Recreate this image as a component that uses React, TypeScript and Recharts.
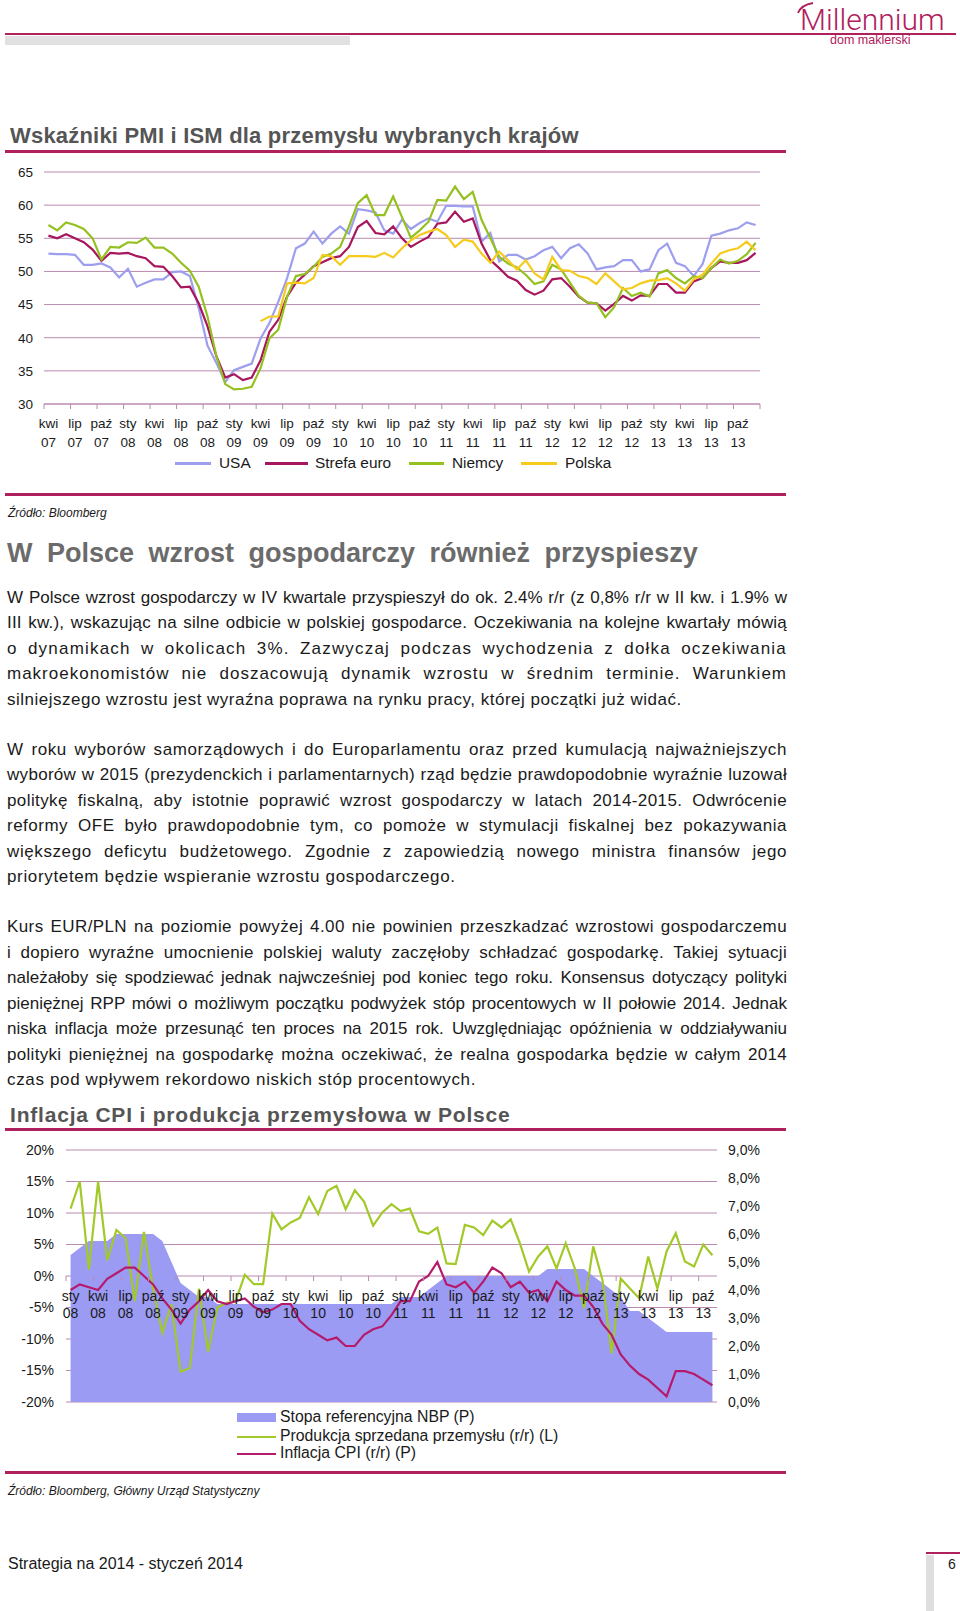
import React from 'react'
import { LineChart, ComposedChart, Line, Area, XAxis, YAxis, CartesianGrid } from 'recharts'

const MONTHS = ['sty', 'lut', 'mar', 'kwi', 'maj', 'cze', 'lip', 'sie', 'wrz', 'paź', 'lis', 'gru']

const monthLabels = (year: number, month: number, count: number) => {
  const out: string[] = []
  for (let k = 0; k < count; k++) {
    const m = (month + k) % 12
    const y = year + Math.floor((month + k) / 12)
    out.push(`${MONTHS[m]} ${String(y).slice(2)}`)
  }
  return out
}

// PMI / ISM, kwi 2007 - gru 2013
const pmiMonths = monthLabels(2007, 3, 81)
const pmiTicks = [30, 35, 40, 45, 50, 55, 60, 65]

const usa = [
  52.7, 52.6, 52.6, 52.5, 51.0, 51.0, 51.2, 50.6, 49.1, 50.4,
  47.7, 48.3, 48.8, 48.8, 49.9, 50.0, 49.3, 44.5, 38.8, 36.2,
  33.3, 35.1, 35.6, 36.1, 39.9, 42.2, 45.4, 49.0, 53.5, 54.2,
  56.0, 54.2, 55.7, 56.8, 55.7, 59.4, 59.2, 58.9, 56.2, 55.7,
  57.8, 56.4, 57.3, 58.0, 57.5, 59.9, 59.9, 59.8, 59.8, 54.5,
  55.8, 51.5, 52.5, 52.5, 51.8, 52.3, 53.2, 53.7, 52.0, 53.5,
  54.1, 52.7, 50.3, 50.6, 50.8, 51.7, 51.7, 50.0, 50.3, 53.2,
  54.2, 51.3, 50.8, 49.3, 51.1, 55.4, 55.7, 56.2, 56.5, 57.4,
  57.0,
]

const strefaEuro = [
  55.4, 55.0, 55.6, 55.0, 54.4, 53.3, 51.6, 52.8, 52.7, 52.8,
  52.3, 52.0, 50.8, 50.7, 49.3, 47.6, 47.7, 45.2, 41.7, 37.2,
  34.0, 34.5, 33.6, 34.0, 36.6, 40.9, 42.7, 46.2, 48.3, 49.5,
  50.8, 51.4, 52.0, 52.3, 53.7, 56.7, 57.6, 55.8, 55.6, 56.8,
  55.0, 53.7, 54.5, 55.2, 57.2, 57.4, 59.0, 57.5, 58.0, 54.2,
  51.7, 50.5, 49.2, 48.6, 47.2, 46.5, 47.1, 48.8, 49.0, 47.7,
  46.2, 45.3, 45.2, 44.1, 45.1, 46.3, 45.6, 46.4, 46.3, 48.1,
  48.1, 46.8, 46.8, 48.5, 49.0, 50.5, 51.5, 51.3, 51.3, 51.7,
  52.8,
]

const niemcy = [
  57.0, 56.2, 57.4, 57.0, 56.4, 55.0, 51.8, 53.7, 53.6, 54.4,
  54.3, 55.1, 53.6, 53.6, 52.7, 51.3, 50.1, 47.7, 43.2, 37.2,
  33.0, 32.2, 32.3, 32.6, 35.4, 39.9, 41.2, 46.2, 49.3, 49.6,
  50.7, 52.2, 52.7, 53.7, 56.8, 60.3, 61.5, 58.5, 58.5, 61.3,
  58.2, 55.1, 56.2, 57.5, 60.8, 60.7, 62.8, 60.9, 62.0, 57.8,
  55.0, 52.2, 51.2, 50.6, 49.5, 48.1, 48.5, 51.0, 50.3, 48.3,
  46.3, 45.3, 45.2, 43.1, 44.6, 47.5, 46.3, 46.8, 46.2, 49.7,
  50.2, 49.0, 48.2, 49.3, 49.0, 50.5, 51.8, 51.2, 51.6, 52.6,
  54.3,
]

const polska = [
  null, null, null, null, null, null, null, null, null, null,
  null, null, null, null, null, null, null, null, null, null,
  null, null, null, null, 42.5, 43.2, 43.2, 48.2, 48.3, 48.2,
  49.0, 52.5, 52.3, 51.0, 52.3, 52.3, 52.3, 52.2, 52.8, 52.1,
  53.5, 54.7, 55.5, 56.0, 56.4, 55.5, 53.7, 54.8, 54.5, 52.7,
  51.3, 53.0, 51.7, 50.3, 51.7, 49.7, 48.8, 52.2, 50.2, 50.1,
  49.3, 49.0, 48.1, 49.7, 48.5, 47.3, 47.5, 48.2, 48.6, 48.7,
  49.0, 48.2, 47.1, 48.8, 49.5, 51.2, 52.7, 53.2, 53.5, 54.5,
  53.2,
]

// CPI / produkcja, sty 2008 - lis 2013
const cpiMonths = monthLabels(2008, 0, 71)
const leftTicks = [-20, -15, -10, -5, 0, 5, 10, 15, 20]
const rightTicks = [0, 1, 2, 3, 4, 5, 6, 7, 8, 9]

const stopaNbp = [
  5.25, 5.5, 5.75, 5.75, 5.75, 6.0, 6.0, 6.0, 6.0, 6.0,
  5.75, 5.0, 4.25, 4.0, 3.75, 3.75, 3.5, 3.5, 3.5, 3.5,
  3.5, 3.5, 3.5, 3.5, 3.5, 3.5, 3.5, 3.5, 3.5, 3.5,
  3.5, 3.5, 3.5, 3.5, 3.5, 3.5, 3.75, 3.75, 3.75, 4.0,
  4.25, 4.5, 4.5, 4.5, 4.5, 4.5, 4.5, 4.5, 4.5, 4.5,
  4.5, 4.5, 4.75, 4.75, 4.75, 4.75, 4.75, 4.5, 4.25, 4.0,
  3.75, 3.25, 3.25, 3.0, 2.75, 2.5, 2.5, 2.5, 2.5, 2.5,
  2.5,
]

const produkcja = [
  10.7, 15.0, 1.0, 15.0, 2.5, 7.3, 6.0, -4.0, 7.0, -2.0,
  -9.0, -4.5, -15.2, -14.6, -2.0, -12.0, -5.0, -4.3, -4.0, 0.2,
  -1.3, -1.3, 9.9, 7.4, 8.5, 9.2, 12.5, 9.8, 13.5, 14.3,
  10.6, 13.6, 11.8, 8.0, 10.1, 11.4, 10.3, 10.7, 7.1, 6.7,
  7.7, 2.0, 1.9, 8.1, 7.7, 6.5, 8.8, 7.7, 9.0, 5.2,
  0.7, 3.1, 4.7, 1.2, 5.2, 1.2, -5.1, 4.7, -0.6, -12.3,
  -0.4, -2.0, -3.5, 3.1, -2.0, 3.9, 6.8, 2.3, 1.5, 5.0,
  3.3,
]

const inflacja = [
  4.0, 4.2, 4.1, 4.0, 4.4, 4.6, 4.8, 4.8, 4.5, 4.2,
  3.7, 3.3, 2.8, 3.3, 3.6, 4.0, 3.6, 3.5, 3.6, 3.7,
  3.4, 3.2, 3.3, 3.5, 3.5, 2.9, 2.6, 2.4, 2.2, 2.3,
  2.0, 2.0, 2.4, 2.6, 2.7, 3.1, 3.6, 3.6, 4.3, 4.5,
  5.0, 4.2, 4.1, 4.3, 3.9, 4.3, 4.8, 4.6, 4.1, 4.3,
  3.9, 4.0, 3.6, 4.3, 4.0, 3.8, 3.8, 3.4, 2.8, 2.4,
  1.7, 1.3, 1.0, 0.8, 0.5, 0.2, 1.1, 1.1, 1.0, 0.8,
  0.6,
]

const pmiSeries = [
  { key: 'usa', name: 'USA', color: '#9e9eef' },
  { key: 'strefaEuro', name: 'Strefa euro', color: '#a8175e' },
  { key: 'niemcy', name: 'Niemcy', color: '#94c11f' },
  { key: 'polska', name: 'Polska', color: '#f5cb1e' },
]

const pmiData = pmiMonths.map((month, i) => ({
  month,
  usa: usa[i],
  strefaEuro: strefaEuro[i],
  niemcy: niemcy[i],
  polska: polska[i],
}))

const cpiData = cpiMonths.map((month, i) => ({
  month,
  stopa: stopaNbp[i],
  produkcja: produkcja[i],
  inflacja: inflacja[i],
}))

const FONT = "'Liberation Sans', Arial, Helvetica, sans-serif"
const CRIMSON = '#b0205d'
const GRID = '#b98aae'
const TEXT = '#1a1a1a'

// chart 1 layout
const C1 = { left: 0, top: 150, width: 800 }
const M1 = { top: 22, right: 40, bottom: 0, left: 0 }
const Y1_W = 44
const PLOT1_H = 232
const X1_H = 66
const PLOT1_W = C1.width - M1.right - Y1_W
const STEP1 = PLOT1_W / pmiMonths.length

// chart 2 layout
const C2 = { left: 0, top: 1130, width: 800 }
const M2 = { top: 20, right: 0, bottom: 0, left: 0 }
const Y2L_W = 66
const Y2R_W = 83
const PLOT2_H = 252
const X2_H = 28
const PLOT2_W = C2.width - Y2L_W - Y2R_W
const STEP2 = PLOT2_W / cpiMonths.length
const L_MIN = -20
const L_MAX = 20

const PmiTick = (props: any) => {
  const { x, payload } = props
  const [mon, yr] = String(payload.value).split(' ')
  const axisY = M1.top + PLOT1_H
  const isLast = payload.value === pmiMonths[pmiMonths.length - 3]
  return (
    <g>
      <line x1={x - STEP1 / 2} x2={x - STEP1 / 2} y1={axisY} y2={axisY + 5} stroke={GRID} />
      {isLast && <line x1={x + STEP1 * 2.5} x2={x + STEP1 * 2.5} y1={axisY} y2={axisY + 5} stroke={GRID} />}
      <text x={x} y={axisY + 24} textAnchor="middle" fontSize={13.5} fill={TEXT} fontFamily={FONT}>{mon}</text>
      <text x={x} y={axisY + 43} textAnchor="middle" fontSize={13.5} fill={TEXT} fontFamily={FONT}>{yr}</text>
    </g>
  )
}

const CpiTick = (props: any) => {
  const { x, payload } = props
  const [mon, yr] = String(payload.value).split(' ')
  // axis crosses the left scale at 0
  const zeroY = M2.top + (PLOT2_H * (L_MAX - 0)) / (L_MAX - L_MIN)
  return (
    <g>
      <line x1={x - STEP2 / 2} x2={x - STEP2 / 2} y1={zeroY} y2={zeroY + 5} stroke={GRID} />
      <text x={x} y={zeroY + 25} textAnchor="middle" fontSize={14} fill={TEXT} fontFamily={FONT}>{mon}</text>
      <text x={x} y={zeroY + 42} textAnchor="middle" fontSize={14} fill={TEXT} fontFamily={FONT}>{yr}</text>
    </g>
  )
}

// text placed by its baseline; lh = line-height factor
const Txt = ({ x, baseline, size, lh = 1.2, children, style = {} }: any) => (
  <div
    style={{
      position: 'absolute',
      left: x,
      top: baseline - ((lh - 1.117) / 2 + 0.905) * size,
      fontSize: size,
      lineHeight: `${size * lh}px`,
      fontFamily: FONT,
      color: TEXT,
      whiteSpace: 'nowrap',
      ...style,
    }}
  >
    {children}
  </div>
)

const Rule = ({ x, y, w, h = 3, color = CRIMSON }: any) => (
  <div style={{ position: 'absolute', left: x, top: y, width: w, height: h, background: color }} />
)

const Para = ({ top, lines, spacing = [] }: { top: number; lines: string[]; spacing?: number[] }) => (
  <div style={{ position: 'absolute', left: 7, top, width: 780, fontFamily: FONT, fontSize: 17, lineHeight: '25.5px', color: TEXT }}>
    {lines.map((t, i) => (
      <div
        key={i}
        style={{
          whiteSpace: 'nowrap',
          textAlign: 'justify',
          textAlignLast: i === lines.length - 1 ? 'left' : 'justify',
          letterSpacing: spacing[i] || 0,
        }}
      >
        {t}
      </div>
    ))}
  </div>
)

const para1 = [
  'W Polsce wzrost gospodarczy w IV kwartale przyspieszył do ok. 2.4% r/r (z 0,8% r/r w II kw. i 1.9% w',
  'III kw.), wskazując na silne odbicie w polskiej gospodarce. Oczekiwania na kolejne kwartały mówią',
  'o dynamikach w okolicach 3%. Zazwyczaj podczas wychodzenia z dołka oczekiwania',
  'makroekonomistów nie doszacowują dynamik wzrostu w średnim terminie. Warunkiem',
  'silniejszego wzrostu jest wyraźna poprawa na rynku pracy, której początki już widać.',
]

const para2 = [
  'W roku wyborów samorządowych i do Europarlamentu oraz przed kumulacją najważniejszych',
  'wyborów w 2015 (prezydenckich i parlamentarnych) rząd będzie prawdopodobnie wyraźnie luzował',
  'politykę fiskalną, aby istotnie poprawić wzrost gospodarczy w latach 2014-2015. Odwrócenie',
  'reformy OFE było prawdopodobnie tym, co pomoże w stymulacji fiskalnej bez pokazywania',
  'większego deficytu budżetowego. Zgodnie z zapowiedzią nowego ministra finansów jego',
  'priorytetem będzie wspieranie wzrostu gospodarczego.',
]

const para3 = [
  'Kurs EUR/PLN na poziomie powyżej 4.00 nie powinien przeszkadzać wzrostowi gospodarczemu',
  'i dopiero wyraźne umocnienie polskiej waluty zaczęłoby schładzać gospodarkę. Takiej sytuacji',
  'należałoby się spodziewać jednak najwcześniej pod koniec tego roku. Konsensus dotyczący polityki',
  'pieniężnej RPP mówi o możliwym początku podwyżek stóp procentowych w II połowie 2014. Jednak',
  'niska inflacja może przesunąć ten proces na 2015 rok. Uwzględniając opóźnienia w oddziaływaniu',
  'polityki pieniężnej na gospodarkę można oczekiwać, że realna gospodarka będzie w całym 2014',
  'czas pod wpływem rekordowo niskich stóp procentowych.',
]

const pmiLegend = [
  { name: 'USA', color: pmiSeries[0].color, x1: 175, x2: 211, tx: 219 },
  { name: 'Strefa euro', color: pmiSeries[1].color, x1: 265, x2: 308, tx: 315 },
  { name: 'Niemcy', color: pmiSeries[2].color, x1: 409, x2: 444, tx: 452 },
  { name: 'Polska', color: pmiSeries[3].color, x1: 521, x2: 557, tx: 565 },
]

const AREA_COLOR = '#9b9bf4'
const PROD_COLOR = '#a2c929'
const CPI_COLOR = '#b51a6b'

export default function App() {
  return (
    <div style={{ position: 'absolute', left: 0, top: 0, width: 960, height: 1611, background: '#fff', overflow: 'hidden' }}>
      {/* header */}
      <svg style={{ position: 'absolute', left: 797, top: 2 }} width={18} height={12}>
        <path d="M1 11 Q 4 3 16 1" stroke={CRIMSON} strokeWidth={1.8} fill="none" />
      </svg>
      <Txt x={800} baseline={30} size={30} lh={1} style={{ color: CRIMSON, fontFamily: "Roboto, 'Liberation Sans', sans-serif", fontWeight: 300 }}>
        Millennium
      </Txt>
      <Rule x={5} y={33} w={951} h={2} />
      <div style={{ position: 'absolute', left: 5, top: 36, width: 345, height: 9, background: '#e1e1e1' }} />
      <Txt x={830} baseline={45} size={12.5} lh={1} style={{ color: CRIMSON }}>dom maklerski</Txt>

      {/* chart 1 */}
      <Txt x={10} baseline={144} size={22} style={{ fontWeight: 'bold', color: '#555', letterSpacing: 0.2 }}>
        Wskaźniki PMI i ISM dla przemysłu wybranych krajów
      </Txt>
      <Rule x={5} y={150} w={781} />
      <div style={{ position: 'absolute', left: C1.left, top: C1.top }}>
        <LineChart width={C1.width} height={M1.top + PLOT1_H + X1_H} data={pmiData} margin={M1}>
          <CartesianGrid vertical={false} stroke={GRID} />
          <XAxis
            dataKey="month"
            scale="point"
            padding={{ left: STEP1 / 2, right: STEP1 / 2 }}
            interval={2}
            height={X1_H}
            axisLine={{ stroke: GRID }}
            tickLine={false}
            tickSize={0}
            tick={PmiTick}
          />
          <YAxis
            domain={[30, 65]}
            ticks={pmiTicks}
            width={Y1_W}
            axisLine={false}
            tickLine={false}
            tickMargin={5}
            tick={{ fill: TEXT, fontSize: 13.5, fontFamily: FONT }}
          />
          {pmiSeries.map((s) => (
            <Line
              key={s.key}
              type="linear"
              dataKey={s.key}
              name={s.name}
              stroke={s.color}
              strokeWidth={2.2}
              dot={false}
              isAnimationActive={false}
            />
          ))}
        </LineChart>
      </div>
      {pmiLegend.map((l) => (
        <React.Fragment key={l.name}>
          <div style={{ position: 'absolute', left: l.x1, top: 462, width: l.x2 - l.x1, height: 3, background: l.color }} />
          <Txt x={l.tx} baseline={469} size={15.4}>{l.name}</Txt>
        </React.Fragment>
      ))}
      <Rule x={5} y={493} w={781} />
      <Txt x={8} baseline={517} size={12} style={{ fontStyle: 'italic' }}>Źródło: Bloomberg</Txt>

      {/* text */}
      <Txt x={7} baseline={563} size={27} style={{ fontWeight: 'bold', color: '#6b6b6b', wordSpacing: 7 }}>
        W Polsce wzrost gospodarczy również przyspieszy
      </Txt>
      <Para top={584.5} lines={para1} spacing={[0, 0.2, 1.2, 1.0, 0.5]} />
      <Para top={736.5} lines={para2} spacing={[0.6, 0.3, 0.4, 0.5, 0.6, 0.65]} />
      <Para top={914.3} lines={para3} spacing={[0.4, 0.3, 0, 0, 0, 0.3, 0.65]} />

      {/* chart 2 */}
      <Txt x={10} baseline={1122} size={21} style={{ fontWeight: 'bold', color: '#555', letterSpacing: 0.8 }}>
        Inflacja CPI i produkcja przemysłowa w Polsce
      </Txt>
      <Rule x={5} y={1128} w={781} />
      <div style={{ position: 'absolute', left: C2.left, top: C2.top }}>
        <ComposedChart width={C2.width} height={M2.top + PLOT2_H + X2_H} data={cpiData} margin={M2}>
          <CartesianGrid vertical={false} stroke={GRID} yAxisId="left" />
          <YAxis
            yAxisId="left"
            orientation="left"
            domain={[L_MIN, L_MAX]}
            ticks={leftTicks}
            width={Y2L_W}
            axisLine={false}
            tickLine={false}
            tickMargin={6}
            tickFormatter={(v: number) => `${v}%`}
            tick={{ fill: TEXT, fontSize: 14, fontFamily: FONT }}
          />
          <YAxis
            yAxisId="right"
            orientation="right"
            domain={[0, 9]}
            ticks={rightTicks}
            width={Y2R_W}
            axisLine={false}
            tickLine={false}
            tickSize={5}
            tickMargin={6}
            tickFormatter={(v: number) => `${v.toFixed(1).replace('.', ',')}%`}
            tick={{ fill: TEXT, fontSize: 14, fontFamily: FONT }}
          />
          <Area
            yAxisId="right"
            type="linear"
            dataKey="stopa"
            name="Stopa referencyjna NBP (P)"
            fill={AREA_COLOR}
            fillOpacity={1}
            stroke="none"
            isAnimationActive={false}
          />
          <XAxis
            dataKey="month"
            scale="point"
            padding={{ left: STEP2 / 2, right: STEP2 / 2 }}
            interval={2}
            height={X2_H}
            axisLine={false}
            tickLine={false}
            tickSize={0}
            tick={CpiTick}
          />
          <Line
            yAxisId="left"
            type="linear"
            dataKey="produkcja"
            name="Produkcja sprzedana przemysłu (r/r) (L)"
            stroke={PROD_COLOR}
            strokeWidth={2.2}
            dot={false}
            isAnimationActive={false}
          />
          <Line
            yAxisId="right"
            type="linear"
            dataKey="inflacja"
            name="Inflacja CPI (r/r) (P)"
            stroke={CPI_COLOR}
            strokeWidth={2.2}
            dot={false}
            isAnimationActive={false}
          />
        </ComposedChart>
      </div>
      <div style={{ position: 'absolute', left: 237, top: 1413, width: 39, height: 9, background: AREA_COLOR }} />
      <Txt x={280} baseline={1422.5} size={15.8}>Stopa referencyjna NBP (P)</Txt>
      <div style={{ position: 'absolute', left: 237, top: 1435.5, width: 39, height: 2, background: PROD_COLOR }} />
      <Txt x={280} baseline={1441.5} size={15.8}>Produkcja sprzedana przemysłu (r/r) (L)</Txt>
      <div style={{ position: 'absolute', left: 237, top: 1453, width: 39, height: 2, background: CPI_COLOR }} />
      <Txt x={280} baseline={1459} size={15.8}>Inflacja CPI (r/r) (P)</Txt>
      <Rule x={5} y={1471} w={781} />
      <Txt x={8} baseline={1495} size={12} style={{ fontStyle: 'italic' }}>Źródło: Bloomberg, Główny Urząd Statystyczny</Txt>

      {/* footer */}
      <Txt x={8} baseline={1569} size={16}>Strategia na 2014 - styczeń 2014</Txt>
      <Rule x={926} y={1552} w={34} h={2} />
      <div style={{ position: 'absolute', left: 926, top: 1555, width: 8, height: 56, background: '#dedede' }} />
      <Txt x={948} baseline={1569} size={14}>6</Txt>
    </div>
  )
}
